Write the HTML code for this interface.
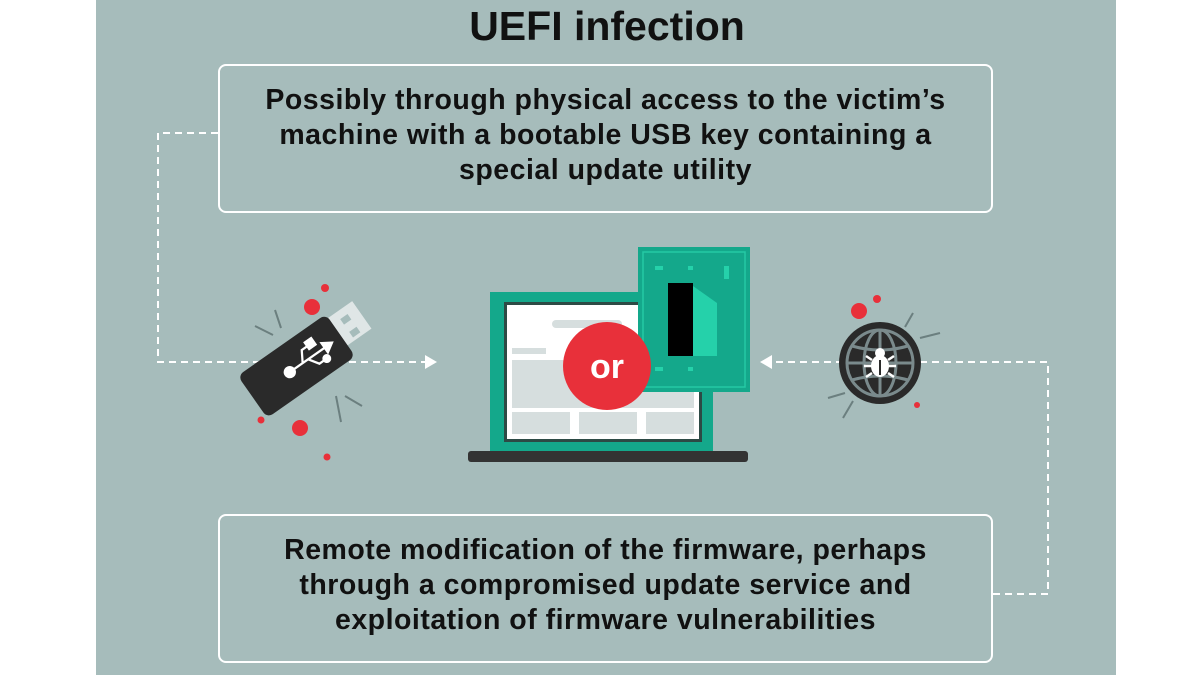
<!DOCTYPE html>
<html><head><meta charset="utf-8"><style>
body{margin:0;width:1200px;height:675px;background:#fff;overflow:hidden;font-family:"Liberation Sans",sans-serif}
.p{position:absolute;left:96px;top:0;width:1020px;height:675px;background:#a6bcbb}
.t{position:absolute;left:0;width:1214px;top:3px;text-align:center;font-size:41px;font-weight:bold;color:#111}
.b{position:absolute;left:218px;width:771px;height:145px;border:2px solid #fff;border-radius:8px;display:flex;align-items:center;justify-content:center;text-align:center;font-size:28.5px;line-height:35px;color:#111;font-weight:bold;letter-spacing:0.5px;padding-bottom:6px;box-sizing:content-box;height:139px}
</style></head><body>
<div class="p"></div>
<div class="t">UEFI infection</div>
<div class="b" style="top:64px">Possibly through physical access to the victim’s<br>machine with a bootable USB key containing a<br>special update utility</div>
<div class="b" style="top:514px">Remote modification of the firmware, perhaps<br>through a compromised update service and<br>exploitation of firmware vulnerabilities</div>
<svg width="1200" height="675" style="position:absolute;left:0;top:0">
<g fill="none" stroke="#fff" stroke-width="2" stroke-dasharray="7,5">
<path d="M218 133H158V362H425"/>
<path d="M993 594H1048V362H772"/>
</g>
<path d="M437 362l-12-7v14z" fill="#fff"/>
<path d="M760 362l12-7v14z" fill="#fff"/>
<rect x="490" y="292" width="223" height="159" fill="#14a88b"/>
<rect x="504" y="302" width="198" height="140" fill="#2d4a45"/>
<rect x="507" y="305" width="192" height="134" fill="#fff"/>
<rect x="512" y="360" width="182" height="48" fill="#d6dede"/>
<rect x="512" y="412" width="58" height="22" fill="#d6dede"/>
<rect x="579" y="412" width="58" height="22" fill="#d6dede"/>
<rect x="646" y="412" width="48" height="22" fill="#d6dede"/>
<rect x="512" y="348" width="34" height="6" fill="#d6dede"/>
<rect x="552" y="320" width="70" height="8" rx="4" fill="#d6dede"/>
<rect x="468" y="451" width="280" height="11" rx="3" fill="#333"/>
<rect x="638" y="247" width="112" height="145" fill="#14a88b"/>
<rect x="643" y="252" width="102" height="135" fill="none" stroke="#25c9a5" stroke-width="1.5"/>
<rect x="668" y="283" width="25" height="73" fill="#000"/>
<path d="M693 286l24 17v53h-24z" fill="#25d1aa"/>
<rect x="655" y="266" width="8" height="4" fill="#25d1aa"/>
<rect x="688" y="266" width="5" height="4" fill="#25d1aa"/>
<rect x="724" y="266" width="5" height="13" fill="#25d1aa"/>
<rect x="655" y="367" width="8" height="4" fill="#25d1aa"/>
<rect x="688" y="367" width="5" height="4" fill="#25d1aa"/>
<circle cx="607" cy="366" r="44" fill="#e8303a"/>
<text x="607" y="378" text-anchor="middle" font-family="Liberation Sans" font-weight="bold" font-size="34" fill="#fff">or</text>
<g transform="translate(310,358) rotate(-35) scale(1.12)">
<rect x="30" y="-20" width="30" height="30" fill="#dfe6e6"/>
<rect x="42" y="-13" width="8" height="6" fill="#a6bcbb"/>
<rect x="42" y="1" width="8" height="6" fill="#a6bcbb"/>
<rect x="-62" y="-24" width="96" height="46" rx="6" fill="#2a2a2a"/>
<g stroke="#fff" stroke-width="2" fill="#fff">
<line x1="-20" y1="0" x2="18" y2="0"/><path d="M24 0l-8-5v10z"/>
<path d="M-8 0l6-10h8" fill="none"/><rect x="4" y="-14" width="7" height="7"/>
<path d="M-2 0l6 9h5" fill="none"/><circle cx="12" cy="9" r="3"/>
<circle cx="-22" cy="0" r="4.5"/>
</g>
</g>
<g fill="#e8303a"><circle cx="312" cy="307" r="8"/><circle cx="325" cy="288" r="4"/><circle cx="300" cy="428" r="8"/><circle cx="261" cy="420" r="3.5"/><circle cx="327" cy="457" r="3.5"/>
<circle cx="859" cy="311" r="8"/><circle cx="877" cy="299" r="4"/><circle cx="917" cy="405" r="3"/></g>
<g stroke="#6b7f7f" stroke-width="2"><line x1="275" y1="310" x2="281" y2="328"/><line x1="255" y1="326" x2="273" y2="335"/><line x1="336" y1="396" x2="341" y2="422"/><line x1="345" y1="396" x2="362" y2="406"/>
<line x1="913" y1="313" x2="905" y2="327"/><line x1="920" y1="338" x2="940" y2="333"/><line x1="828" y1="398" x2="845" y2="393"/><line x1="853" y1="401" x2="843" y2="418"/></g>
<circle cx="880" cy="363" r="41" fill="#2a2a2a"/>
<g fill="none" stroke="#7a8a8c" stroke-width="3">
<circle cx="880" cy="363" r="33"/><ellipse cx="880" cy="363" rx="16" ry="33"/><line x1="880" y1="330" x2="880" y2="396"/>
<line x1="847" y1="363" x2="913" y2="363"/><path d="M852 346q28 8 56 0M852 380q28-8 56 0"/></g>
<g fill="#fff"><ellipse cx="880" cy="366" rx="9" ry="11"/><circle cx="880" cy="353" r="5"/></g>
<g stroke="#fff" stroke-width="2.5"><path d="M866 356l6 4M894 356l-6 4M864 366h8M896 366h-8M866 377l6-4M894 377l-6-4"/></g>
<line x1="880" y1="360" x2="880" y2="375" stroke="#2a2a2a" stroke-width="2"/>
</svg>
</body></html>
